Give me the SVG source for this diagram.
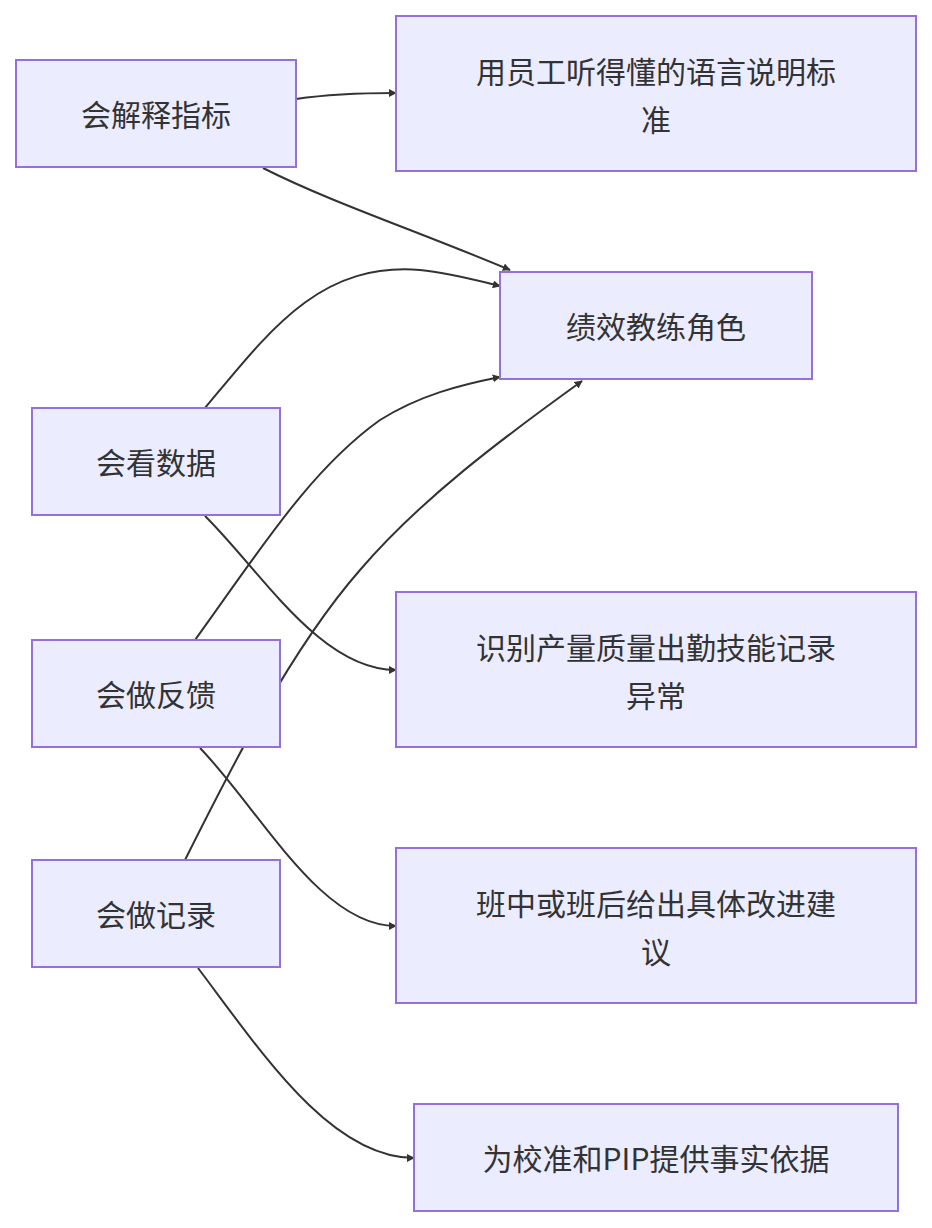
<svg xmlns="http://www.w3.org/2000/svg" width="932" height="1228" viewBox="0 0 932 1228">
<style>
.n rect{fill:#ECECFF;stroke:#9370DB;stroke-width:2}
.n text{font-family:"Noto Sans CJK SC","Noto Sans",sans-serif;font-size:30px;fill:#333;text-anchor:middle;dominant-baseline:central}
.e path{fill:none;stroke:#333;stroke-width:2;marker-end:url(#a)}
</style>
<defs><marker id="a" viewBox="0 0 10 10" refX="9" refY="5" markerWidth="8" markerHeight="8" orient="auto" markerUnits="userSpaceOnUse"><path d="M0,0L10,5L0,10z" fill="#333"/></marker>
</defs>
<rect width="932" height="1228" fill="#fff"/>
<g class="e">
<path d="M296,99 C330,94 360,93 396,93"/>
<path d="M263,168 C330,202 420,232 510,270"/>
<path d="M205,408 C270,330 320,262 420,270 C450,273 475,280 500,286"/>
<path d="M205,516 C260,570 320,670 396,670"/>
<path d="M195,640 C260,550 310,470 380,420 C420,395 460,385 500,377"/>
<path d="M185,860 C230,770 290,650 360,570 C420,500 500,440 582,381"/>
<path d="M200,748 C260,810 320,926 396,926"/>
<path d="M198,968 C260,1050 330,1158 414,1158"/>
</g>
<g id="n1" class="n"><rect x="16" y="60" width="280" height="107"/><text x="156" y="113">会解释指标</text></g>
<g id="n2" class="n"><rect x="396" y="16" width="520" height="155"/><text x="656" y="70">用员工听得懂的语言说明标</text><text x="656" y="118">准</text></g>
<g id="n3" class="n"><rect x="500" y="272" width="312" height="107"/><text x="656" y="325">绩效教练角色</text></g>
<g id="n4" class="n"><rect x="32" y="408" width="248" height="107"/><text x="156" y="461">会看数据</text></g>
<g id="n5" class="n"><rect x="396" y="592" width="520" height="155"/><text x="656" y="646">识别产量质量出勤技能记录</text><text x="656" y="694">异常</text></g>
<g id="n6" class="n"><rect x="32" y="640" width="248" height="107"/><text x="156" y="693">会做反馈</text></g>
<g id="n7" class="n"><rect x="396" y="848" width="520" height="155"/><text x="656" y="902">班中或班后给出具体改进建</text><text x="656" y="950">议</text></g>
<g id="n8" class="n"><rect x="32" y="860" width="248" height="107"/><text x="156" y="913">会做记录</text></g>
<g id="n9" class="n"><rect x="414" y="1104" width="484" height="107"/><text x="656" y="1157">为校准和PIP提供事实依据</text></g>
</svg>
